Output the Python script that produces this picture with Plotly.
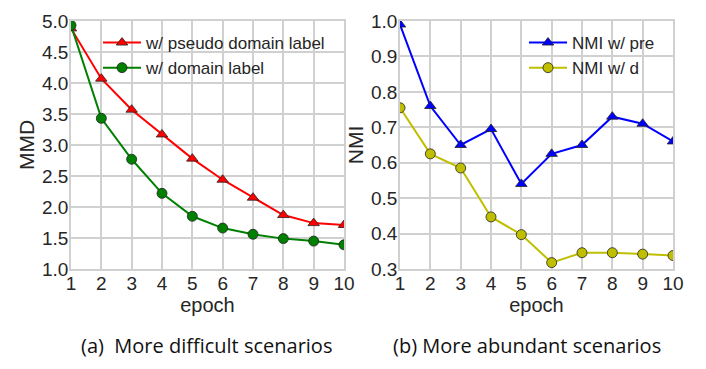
import plotly.graph_objects as go

epochs = [1, 2, 3, 4, 5, 6, 7, 8, 9, 10]
mmd_pseudo = [4.88, 4.07, 3.57, 3.17, 2.78, 2.44, 2.15, 1.87, 1.74, 1.71]
mmd_domain = [4.93, 3.43, 2.77, 2.22, 1.85, 1.66, 1.56, 1.49, 1.45, 1.39]
nmi_pre = [0.99, 0.76, 0.65, 0.695, 0.54, 0.625, 0.65, 0.73, 0.71, 0.66]
nmi_d = [0.755, 0.625, 0.585, 0.447, 0.397, 0.318, 0.346, 0.346, 0.342, 0.338]

FONT = "Liberation Sans"
TXT = "#262626"
GRID = "#d0d0d0"
OFF = 8  # page body margin

def px_x(p):
    return (p - OFF) / 706

def px_y(p):
    return 1 - (p - OFF) / 369

fig = go.Figure()

def add(x, y, name, color, symbol, xa, ya, legend):
    fig.add_trace(go.Scatter(
        x=x, y=y, name=name, mode="lines+markers",
        line=dict(color=color, width=2),
        marker=dict(symbol=symbol, size=10, color=color, line=dict(color="#222222", width=0.8)),
        xaxis=xa, yaxis=ya, legend=legend))

add(epochs, mmd_pseudo, "w/ pseudo domain label", "#ff0000", "triangle-up", "x", "y", "legend")
add(epochs, mmd_domain, "w/ domain label", "#008000", "circle", "x", "y", "legend")
add(epochs, nmi_pre, "NMI w/ pre", "#0000ff", "triangle-up", "x2", "y2", "legend2")
add(epochs, nmi_d, "NMI w/ d", "#bfbf00", "circle", "x2", "y2", "legend2")

ydom = [px_y(269), px_y(21)]
axcommon = dict(showgrid=True, gridcolor=GRID, gridwidth=1.5, zeroline=False,
                showline=True, linecolor=GRID, linewidth=1.5, mirror=True,
                ticks="", automargin=False,
                tickfont=dict(family=FONT, size=19, color=TXT))
xtitle = dict(text="epoch", font=dict(family=FONT, size=20, color=TXT), standoff=0)

fig.update_layout(
    width=706, height=369, margin=dict(l=0, r=0, t=0, b=0, autoexpand=False),
    paper_bgcolor="white", plot_bgcolor="white",
    font=dict(family=FONT, color=TXT),
    xaxis=dict(domain=[px_x(71), px_x(344)], range=[1, 10], dtick=1, anchor="y",
               title=xtitle, ticklabelstandoff=-4, **axcommon),
    yaxis=dict(domain=ydom, range=[1.0, 5.0], dtick=0.5, tickformat=".1f", anchor="x",
               ticklabelstandoff=-3,
               title=dict(text="MMD", font=dict(family=FONT, size=21, color=TXT), standoff=2), **axcommon),
    xaxis2=dict(domain=[px_x(400), px_x(673)], range=[1, 10], dtick=1, anchor="y2",
                title=xtitle, ticklabelstandoff=-4, **axcommon),
    yaxis2=dict(domain=ydom, range=[0.3, 1.0], dtick=0.1, tickformat=".1f", anchor="x2",
                ticklabelstandoff=-3,
                title=dict(text="NMI", font=dict(family=FONT, size=21, color=TXT), standoff=2), **axcommon),
    legend=dict(x=px_x(98), y=px_y(25), xanchor="left", yanchor="top",
                bgcolor="rgba(0,0,0,0)", font=dict(family=FONT, size=17, color=TXT),
                tracegroupgap=0, itemwidth=38),
    legend2=dict(x=px_x(524), y=px_y(25), xanchor="left", yanchor="top",
                 bgcolor="rgba(0,0,0,0)", font=dict(family=FONT, size=17, color=TXT),
                 tracegroupgap=0, itemwidth=38),
    showlegend=True,
)

fig.add_annotation(text="(a)  More difficult scenarios", x=px_x(207), y=px_y(345),
                   xref="paper", yref="paper", xanchor="center", yanchor="middle", showarrow=False,
                   font=dict(family="Open Sans", size=20, color="#111111"))
fig.add_annotation(text="(b) More abundant scenarios", x=px_x(527), y=px_y(345),
                   xref="paper", yref="paper", xanchor="center", yanchor="middle", showarrow=False,
                   font=dict(family="Open Sans", size=20, color="#111111"))

fig.write_html("out.html")
